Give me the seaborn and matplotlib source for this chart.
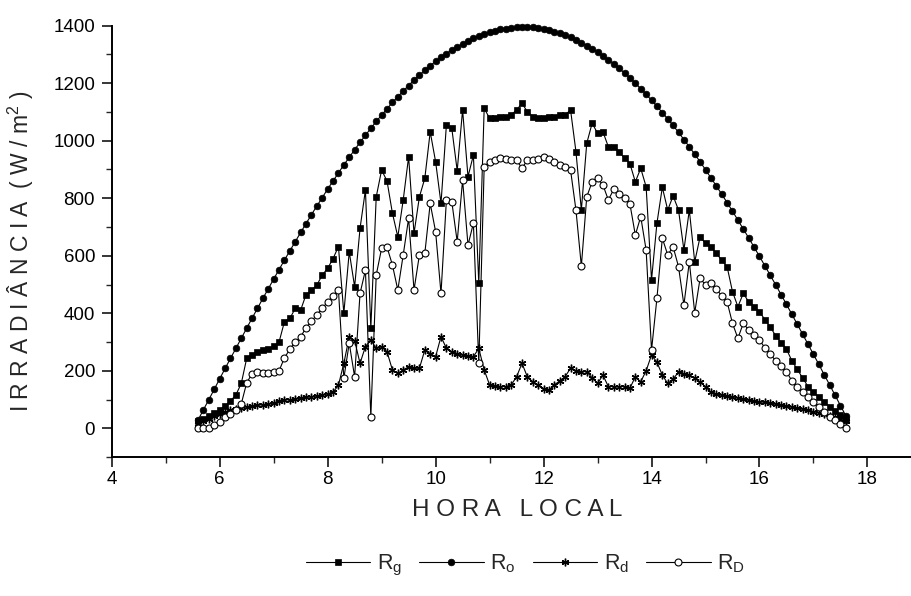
import numpy as np
import pandas as pd
import matplotlib
matplotlib.use("Agg")
import matplotlib.pyplot as plt
import seaborn as sns

# hora local (h), amostras a cada 0,1 h
hora = [5.6, 5.7, 5.8, 5.9,
        6.0, 6.1, 6.2, 6.3, 6.4, 6.5, 6.6, 6.7, 6.8, 6.9,
        7.0, 7.1, 7.2, 7.3, 7.4, 7.5, 7.6, 7.7, 7.8, 7.9,
        8.0, 8.1, 8.2, 8.3, 8.4, 8.5, 8.6, 8.7, 8.8, 8.9,
        9.0, 9.1, 9.2, 9.3, 9.4, 9.5, 9.6, 9.7, 9.8, 9.9,
        10.0, 10.1, 10.2, 10.3, 10.4, 10.5, 10.6, 10.7, 10.8, 10.9,
        11.0, 11.1, 11.2, 11.3, 11.4, 11.5, 11.6, 11.7, 11.8, 11.9,
        12.0, 12.1, 12.2, 12.3, 12.4, 12.5, 12.6, 12.7, 12.8, 12.9,
        13.0, 13.1, 13.2, 13.3, 13.4, 13.5, 13.6, 13.7, 13.8, 13.9,
        14.0, 14.1, 14.2, 14.3, 14.4, 14.5, 14.6, 14.7, 14.8, 14.9,
        15.0, 15.1, 15.2, 15.3, 15.4, 15.5, 15.6, 15.7, 15.8, 15.9,
        16.0, 16.1, 16.2, 16.3, 16.4, 16.5, 16.6, 16.7, 16.8, 16.9,
        17.0, 17.1, 17.2, 17.3, 17.4, 17.5, 17.6]

# irradiancia global (W/m2)
r_g = [25, 32, 42, 52,
       64, 78, 95, 116, 156, 243, 255, 266, 272, 276,
       285, 300, 371, 382, 417, 411, 465, 480, 498, 533,
       556, 590, 632, 400, 614, 492, 695, 829, 348, 805,
       898, 860, 748, 666, 794, 944, 678, 805, 869, 1031,
       927, 782, 1055, 1043, 896, 1107, 875, 950, 504, 1113,
       1078, 1078, 1084, 1082, 1090, 1107, 1130, 1101, 1084, 1080,
       1078, 1082, 1084, 1088, 1090, 1107, 962, 759, 991, 1061,
       1026, 1031, 979, 979, 960, 940, 920, 857, 904, 840,
       516, 713, 838, 759, 808, 759, 620, 759, 579, 666,
       643, 631, 608, 585, 562, 475, 423, 469, 440, 423,
       405, 378, 352, 322, 298, 275, 235, 205, 175, 145,
       125, 108, 92, 75, 60, 45, 28]

# irradiancia no topo da atmosfera
r_o = [29, 65, 100, 136,
       172, 208, 243, 278, 313, 348, 383, 417, 452, 485,
       519, 552, 585, 617, 649, 681, 712, 743, 773, 802,
       832, 860, 888, 916, 942, 969, 994, 1019, 1043, 1067,
       1089, 1111, 1133, 1153, 1173, 1192, 1211, 1228, 1245, 1261,
       1276, 1290, 1303, 1316, 1327, 1337, 1347, 1356, 1364, 1371,
       1377, 1383, 1387, 1390, 1393, 1394, 1395, 1395, 1394, 1391,
       1388, 1385, 1379, 1374, 1367, 1359, 1351, 1341, 1331, 1320,
       1308, 1295, 1282, 1267, 1252, 1235, 1218, 1200, 1181, 1161,
       1141, 1120, 1098, 1076, 1053, 1029, 1004, 979, 953, 927,
       899, 871, 843, 814, 785, 755, 724, 693, 662, 630,
       598, 565, 532, 499, 465, 431, 396, 362, 327, 292,
       257, 222, 186, 151, 115, 79, 43]

# irradiancia difusa
r_d = [15, 25, 33, 42,
       50, 57, 63, 68, 72, 75, 78, 80, 82, 85,
       88, 95, 100, 98, 102, 105, 108, 110, 113, 116,
       120, 125, 150, 226, 318, 305, 226, 284, 307, 278,
       284, 266, 203, 191, 203, 214, 210, 209, 272, 260,
       249, 319, 278, 266, 260, 255, 252, 249, 278, 203,
       151, 148, 145, 145, 151, 179, 226, 179, 162, 150,
       138, 133, 151, 165, 180, 209, 200, 197, 197, 175,
       156, 185, 145, 145, 145, 145, 140, 179, 162, 200,
       255, 230, 185, 156, 170, 197, 190, 185, 174, 160,
       145, 125, 120, 115, 112, 110, 106, 102, 98, 95,
       92, 90, 87, 84, 81, 78, 74, 70, 67, 63,
       58, 54, 50, 44, 38, 32, 25]

# irradiancia direta
r_D = [0, 0, 2, 10,
       22, 38, 50, 65, 85, 158, 190, 196, 193, 191,
       196, 200, 245, 275, 300, 318, 350, 372, 395, 417,
       440, 460, 481, 174, 296, 179, 469, 550, 40, 533,
       626, 630, 568, 481, 603, 730, 481, 603, 608, 782,
       684, 469, 794, 788, 649, 863, 637, 713, 226, 910,
       927, 933, 939, 935, 933, 933, 904, 933, 933, 935,
       944, 935, 927, 916, 910, 898, 759, 564, 805, 857,
       869, 846, 794, 831, 815, 800, 780, 672, 736, 620,
       272, 452, 661, 603, 631, 562, 429, 579, 402, 522,
       498, 506, 485, 460, 440, 365, 313, 365, 342, 324,
       307, 280, 258, 235, 215, 197, 165, 142, 125, 110,
       92, 75, 58, 40, 28, 15, 0]

sns.set_style("ticks")
plt.rcParams["font.family"] = ["Liberation Sans", "DejaVu Sans"]
plt.rcParams["mathtext.fontset"] = "custom"
plt.rcParams["mathtext.rm"] = "Liberation Sans"
plt.rcParams["mathtext.it"] = "Liberation Sans:italic"

df = pd.DataFrame({"hora": hora, "Rg": r_g, "Ro": r_o, "Rd": r_d, "RD": r_D})

fig = plt.figure(figsize=(9.12, 5.96), dpi=100)
ax = fig.add_axes([0.1225, 0.2331, 0.876, 0.7238])

series = [
    ("Rg", r"R$_\mathrm{g}$", dict(marker="s", ms=4.0, mfc="black", mec="black", mew=0.5)),
    ("Ro", r"R$_\mathrm{o}$", dict(marker="o", ms=4.8, mfc="black", mec="black", mew=0.5)),
    ("Rd", r"R$_\mathrm{d}$", dict(marker=(6, 2, 0), ms=5.5, mfc="black", mec="black", mew=1.0)),
    ("RD", r"R$_\mathrm{D}$", dict(marker="o", ms=5.0, mfc="white", mec="black", mew=0.8)),
]
for col, lab, style in series:
    sns.lineplot(data=df, x="hora", y=col, ax=ax, color="0.45", lw=0.5,
                 label=lab, clip_on=False, **style)

if ax.get_legend() is not None:
    ax.get_legend().remove()

ax.set_xlim(4, 18.8)
ax.set_ylim(-100, 1400)
ax.set_xticks(np.arange(4, 19, 2))
ax.set_xticks(np.arange(5, 18, 2), minor=True)
ax.set_yticks(np.arange(0, 1401, 200))
ax.set_yticks(np.arange(-100, 1400, 200), minor=True)
ax.tick_params(which="major", direction="out", length=7, width=1.1,
               labelsize=13.5, colors="black")
ax.tick_params(axis="x", which="major", pad=3)
ax.tick_params(axis="y", which="major", pad=5)
ax.tick_params(which="minor", direction="out", length=4, width=1.0)
sns.despine(ax=ax)
for s in ["left", "bottom"]:
    ax.spines[s].set_linewidth(1.4)
    ax.spines[s].set_color("black")

ax.set_xlabel("H O R A   L O C A L", fontsize=17.5)
ax.xaxis.set_label_coords(0.508, -0.097)
ax.set_ylabel(r"I R R A D I Â N C I A  ( W / m$^{2}$ )", fontsize=16.5)
ax.yaxis.set_label_coords(-0.095, 0.478)

handles, labels = ax.get_legend_handles_labels()
for h in handles:
    h.set_color("black")
    h.set_linewidth(0.8)
fig.legend(handles, labels, loc="center", bbox_to_anchor=(0.576, 0.052),
           ncol=4, frameon=False, fontsize=15.5, handlelength=3.0,
           handletextpad=0.3, columnspacing=0.8, numpoints=1)

fig.savefig("out.png", dpi=100)
